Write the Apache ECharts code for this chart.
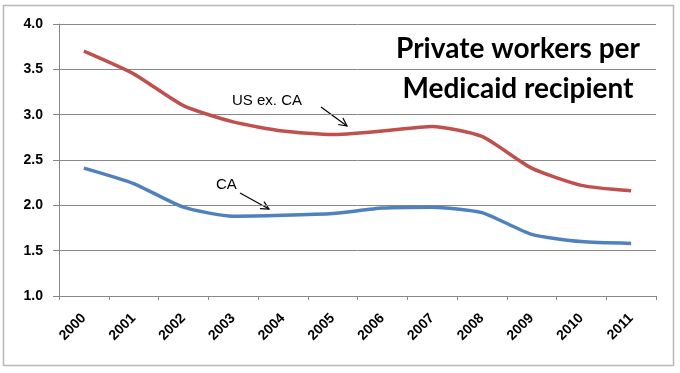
<!DOCTYPE html>
<html><head><meta charset="utf-8">
<script src="https://cdn.jsdelivr.net/npm/echarts@6/dist/echarts.min.js"></script>
<style>html,body{margin:0;padding:0;background:#fff}#c{width:680px;height:373px}</style>
</head><body><div id="c"></div>
<script>
const years = ['2000','2001','2002','2003','2004','2005','2006','2007','2008','2009','2010','2011'];
const usExCA = [3.70,3.45,3.10,2.92,2.82,2.78,2.82,2.87,2.76,2.41,2.22,2.16];
const caVals = [2.41,2.24,1.98,1.88,1.89,1.91,1.97,1.98,1.92,1.68,1.60,1.58];
const yTicks = ['1.0','1.5','2.0','2.5','3.0','3.5','4.0'];
const titleLines = ['Private workers per','Medicaid recipient'];
const seriesNames = ['US ex. CA','CA'];

function arrow(x1,y1,x2,y2){
  const ang = Math.atan2(y2-y1,x2-x1);
  const len = Math.hypot(x2-x1,y2-y1);
  return {
    type:'group', x:x1, y:y1, rotation:-ang, silent:true,
    children:[
      {type:'line', shape:{x1:0,y1:0,x2:len,y2:0}, style:{stroke:'#000',lineWidth:1.2}},
      {type:'polyline', shape:{points:[[len-8,-4],[len,0],[len-8,4]]}, style:{stroke:'#000',lineWidth:1.2,fill:null}}
    ]
  };
}

const chart = echarts.init(document.getElementById('c'), null, {renderer:'canvas'});
chart.setOption({
  animation:false,
  backgroundColor:'#fff',
  grid:{left:59,right:24,top:24,bottom:77,containLabel:false},
  xAxis:{
    type:'category', data:years, boundaryGap:true,
    axisLine:{lineStyle:{color:'#888',width:1}},
    axisTick:{show:true,length:4,lineStyle:{color:'#888'}},
    axisLabel:{rotate:45,margin:20,fontFamily:'Liberation Sans',fontWeight:'bold',fontSize:14,color:'#000'},
    splitLine:{show:false}
  },
  yAxis:{
    type:'value', min:1, max:4, interval:0.5,
    axisLine:{show:true,lineStyle:{color:'#888',width:1}},
    axisTick:{show:true,length:6,lineStyle:{color:'#888'}},
    axisLabel:{margin:16,fontFamily:'Liberation Sans',fontWeight:'bold',fontSize:14,color:'#000',
      formatter:v=>yTicks[Math.round((v-1)/0.5)]},
    splitLine:{show:true,lineStyle:{color:'#888',width:1}}
  },
  series:[
    {name:seriesNames[0],type:'line',data:usExCA,smooth:0.2,showSymbol:false,
     lineStyle:{color:'#C0504D',width:3.5},itemStyle:{color:'#C0504D'}},
    {name:seriesNames[1],type:'line',data:caVals,smooth:0.2,showSymbol:false,
     lineStyle:{color:'#4F81BD',width:3.5},itemStyle:{color:'#4F81BD'}}
  ],
  graphic:[
    {type:'rect',shape:{x:3.5,y:5.5,width:670,height:360},style:{fill:null,stroke:'#b8b8b8',lineWidth:1.5},silent:true,z:-1},
    {type:'text',x:518,y:29,style:{text:titleLines.join('\n'),font:'bold 28px Lato',fill:'#000',align:'center',verticalAlign:'top',lineHeight:40}},
    {type:'text',x:232,y:101,style:{text:seriesNames[0],font:'15px "Liberation Sans"',fill:'#000',align:'left',verticalAlign:'middle'}},
    {type:'text',x:216,y:185,style:{text:seriesNames[1],font:'15px "Liberation Sans"',fill:'#000',align:'left',verticalAlign:'middle'}},
    arrow(321,107,347,126),
    arrow(240,193,269,209)
  ]
});
</script></body></html>
